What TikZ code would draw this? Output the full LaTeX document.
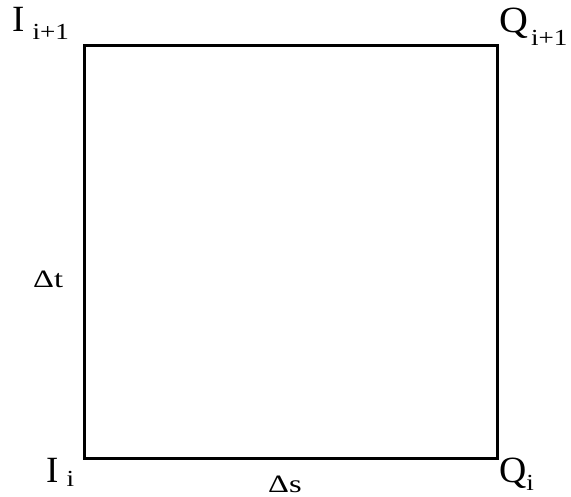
\documentclass[tikz,border=0pt]{standalone}
\usepackage{fontspec}
\setmainfont{Liberation Serif}
\newcommand{\bigf}{\fontsize{37}{37}\selectfont}
\newcommand{\subf}{\fontsize{23}{23}\selectfont}
\newcommand{\midf}{\fontsize{25}{25}\selectfont}
\newcommand{\wsub}[1]{\scalebox{1.18}[1]{\subf #1}}
\begin{document}
\begin{tikzpicture}[x=1pt,y=1pt,
  lbl/.style={inner sep=0pt, anchor=base west}]
\useasboundingbox (0,0) rectangle (571,497);
\coordinate (A) at (84,38);
\coordinate (B) at (497,38);
\coordinate (C) at (497,451);
\coordinate (D) at (84,451);
\draw[line width=3pt, line join=miter] (A) -- (B) -- (C) -- (D) -- cycle;
\node[lbl] (Iip) at (12,465) {\bigf I\hspace{8pt}\raisebox{-8pt}{\wsub{i+1}}};
\node[lbl] (Qip) at (499,464) {\bigf \scalebox{1.08}[1]{Q}\hspace{3pt}\raisebox{-13pt}{\wsub{i+1}}};
\node[lbl] (Ii) at (46,14) {\bigf I\hspace{8pt}\raisebox{-4pt}{\wsub{i}}};
\node[lbl] (Qi) at (499,14) {\bigf \scalebox{1.02}[1]{Q}\hspace{0pt}\raisebox{-8pt}{\wsub{i}}};
\node[lbl] (dt) at (33,209) {\scalebox{1.3}[1]{\midf Δt}};
\node[lbl] (ds) at (268,4) {\scalebox{1.3}[1]{\midf Δs}};
\end{tikzpicture}
\end{document}
